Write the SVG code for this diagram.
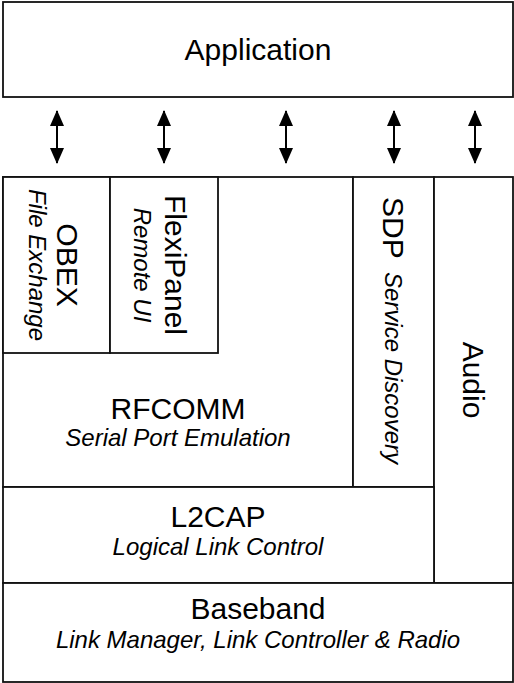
<svg xmlns="http://www.w3.org/2000/svg" width="514" height="683" viewBox="0 0 514 683">
<defs>
<marker id="ah" viewBox="0 0 16 14" refX="15" refY="7" markerWidth="16" markerHeight="14" orient="auto-start-reverse" markerUnits="userSpaceOnUse">
<path d="M0,0 L16,7 L0,14 Z" fill="#000"/>
</marker>
<style>
.box{fill:#fff;stroke:#111;stroke-width:1.8}
.t{font-family:"Liberation Sans",Arial,sans-serif;font-size:30px;fill:#000}
.s{font-family:"Liberation Sans",Arial,sans-serif;font-size:24px;font-style:italic;fill:#000}
.m{text-anchor:middle}
.arr{stroke:#000;stroke-width:2;fill:none;marker-start:url(#ah);marker-end:url(#ah)}
</style>
</defs>
<rect width="514" height="683" fill="#fff"/>
<g id="application">
<rect class="box" x="3" y="2" width="510" height="95"/>
<text class="t m" x="258" y="60">Application</text>
</g>
<g id="rfcomm">
<rect class="box" x="3" y="177" width="350" height="310"/>
<text class="t m" x="178" y="419">RFCOMM</text>
<text class="s m" x="178" y="446">Serial Port Emulation</text>
</g>
<g id="obex">
<rect class="box" x="3" y="177" width="107" height="176"/>
<text class="t m" transform="translate(57,265) rotate(90)">OBEX</text>
<text class="s m" transform="translate(29,265) rotate(90)">File Exchange</text>
</g>
<g id="flexipanel">
<rect class="box" x="110" y="177" width="108" height="176"/>
<text class="t m" transform="translate(165,265) rotate(90)">FlexiPanel</text>
<text class="s m" transform="translate(134,265) rotate(90)">Remote UI</text>
</g>
<g id="sdp">
<rect class="box" x="353" y="177" width="81" height="310"/>
<text class="t" transform="translate(383,197) rotate(90)">SDP</text>
<text class="s" transform="translate(385,272) rotate(90)">Service Discovery</text>
</g>
<g id="audio">
<rect class="box" x="434" y="177" width="79" height="406"/>
<text class="t m" transform="translate(463,380) rotate(90)">Audio</text>
</g>
<g id="l2cap">
<rect class="box" x="3" y="487" width="431" height="96"/>
<text class="t m" x="218" y="527">L2CAP</text>
<text class="s m" x="218" y="555">Logical Link Control</text>
</g>
<g id="baseband">
<rect class="box" x="3" y="583" width="510" height="99"/>
<text class="t m" x="258" y="619">Baseband</text>
<text class="s m" x="258" y="648">Link Manager, Link Controller &amp; Radio</text>
</g>
<g id="connectors">
<line class="arr" x1="57" y1="111" x2="57" y2="163"/>
<line class="arr" x1="164" y1="111" x2="164" y2="163"/>
<line class="arr" x1="286" y1="111" x2="286" y2="163"/>
<line class="arr" x1="394" y1="111" x2="394" y2="163"/>
<line class="arr" x1="475" y1="111" x2="475" y2="163"/>
</g>
</svg>
